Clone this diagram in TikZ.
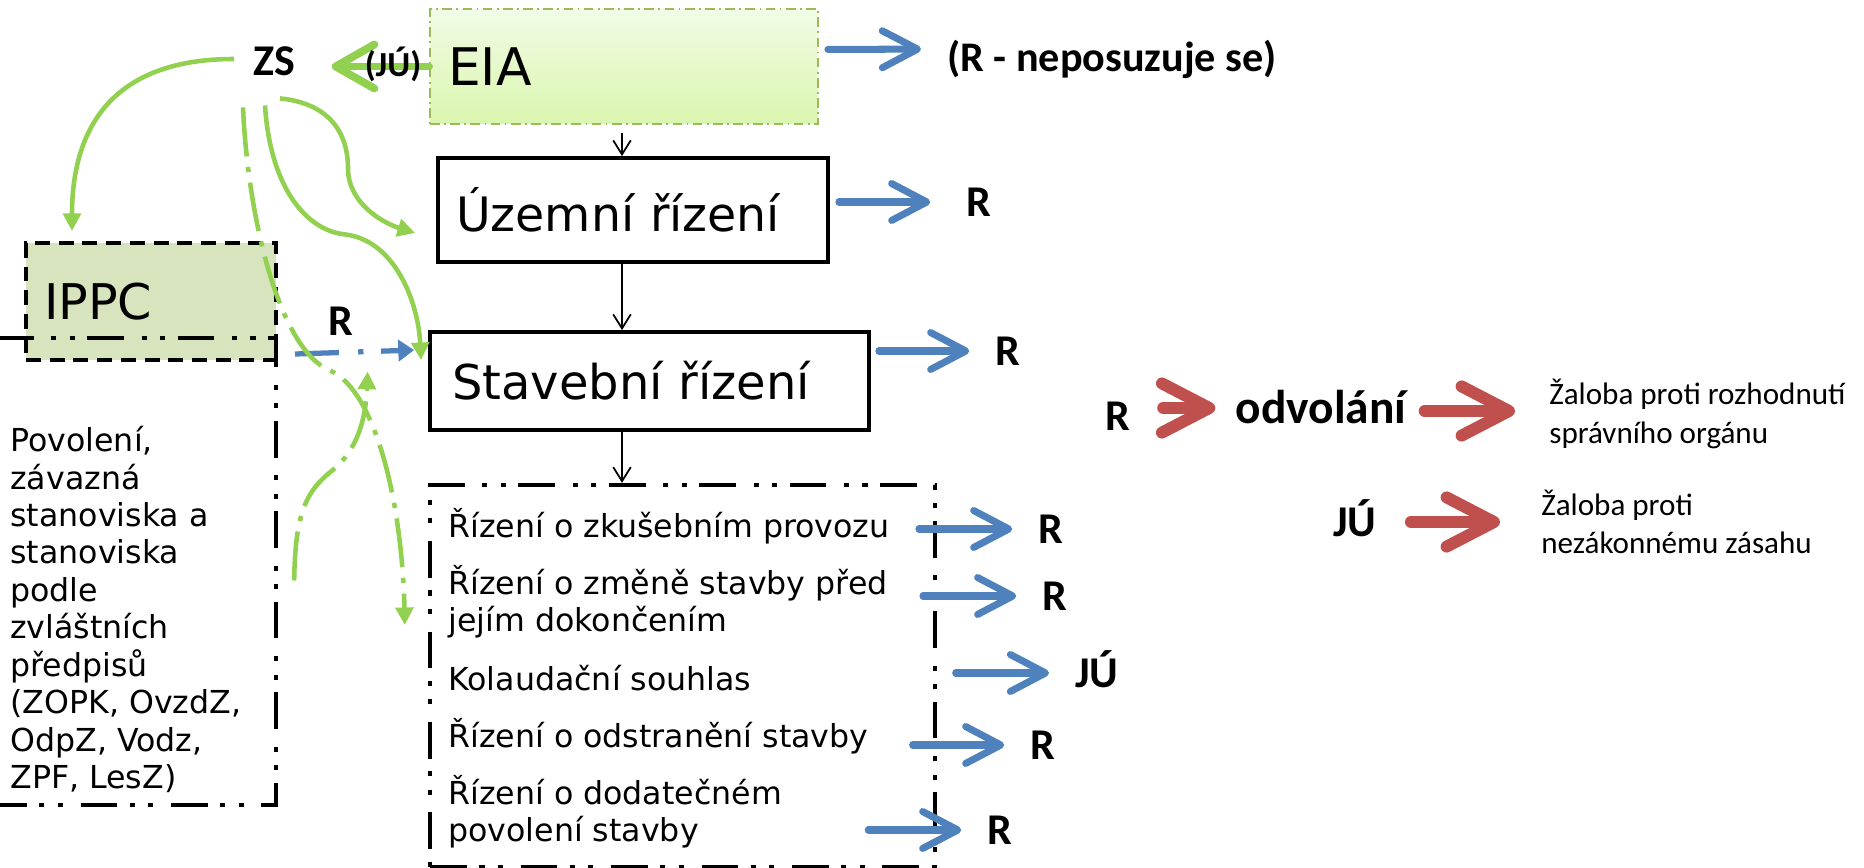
\documentclass[tikz,border=0pt]{standalone}
\usepackage{fontspec}
\setmainfont{DejaVu Sans}
\newfontfamily\calib{Carlito}
\usetikzlibrary{arrows.meta,positioning,calc}
\definecolor{arrowblue}{HTML}{4F81BD}
\definecolor{arrowred}{HTML}{C0504D}
\definecolor{arrowgreen}{HTML}{92D050}
\definecolor{eiaedge}{HTML}{9BBB59}
\definecolor{eiatop}{HTML}{F2FBE6}
\definecolor{eiabottom}{HTML}{D9F6AE}
\definecolor{ippcfill}{HTML}{D7E4BD}
\newcommand{\fsz}[2]{\fontsize{#1}{#2}\selectfont}

\begin{document}
\begin{tikzpicture}[x=0.02cm,y=-0.02cm,
  box/.style={draw=black,line width=2.2pt,align=left,inner xsep=0.36cm,text=black},
  body/.style={font=\fsz{18}{21.3},inner sep=0pt,align=left},
  lab/.style={font=\calib\bfseries\fsz{25}{30},inner sep=0pt,text height=16pt,text depth=0pt},
  note/.style={font=\calib\fsz{17.7}{22},inner sep=0pt,align=left,anchor=west},
  dashdotdot/.style={draw=black,line width=2.5pt,dash pattern=on 21pt off 7pt on 3pt off 7.5pt on 3pt off 10pt},
  bluearr/.style={draw=arrowblue,line width=4pt,line cap=round,-{Straight Barb[length=20pt,width=21pt,round]},shorten >=0.52cm},
  redarr/.style={draw=arrowred,line width=6.8pt,line cap=round,-{Straight Barb[length=27pt,width=28pt,round]}},
  greenbarb/.style={draw=arrowgreen,line width=4.5pt,line cap=round,-{Straight Barb[length=22pt,width=25pt,round]}},
  greenarr/.style={draw=arrowgreen,line width=2.6pt,-{Triangle[length=10pt,width=10pt]}},
  greendash/.style={greenarr,dash pattern=on 28pt off 6pt on 3pt off 6pt},
  bluedash/.style={draw=arrowblue,line width=3pt,dash pattern=on 25pt off 11pt on 3pt off 10pt,-{Triangle[length=9pt,width=12pt]}},
  thinarr/.style={draw=black,line width=1pt,-{Straight Barb[length=8pt,width=10pt]}}
]
\useasboundingbox (0,0) rectangle (1864,868);

\node[box,draw=eiaedge,line width=1.1pt,dash pattern=on 5.5pt off 2.5pt on 1pt off 2.5pt,top color=eiatop,bottom color=eiabottom,text width=7.04cm,minimum height=2.3cm,font=\fsz{29.5}{34}] (eia) at (624,66.5) {EIA};
\node[box,text width=7.08cm,minimum height=2.08cm,font=\fsz{27}{32}] (uz) at (633,210) {Územní řízení};
\node[box,inner xsep=0.44cm,text width=7.9cm,minimum height=1.96cm,font=\fsz{27.3}{32}] (st) at (649.5,381) {Stavební řízení};
\node[box,fill=ippcfill,line width=2.3pt,dash pattern=on 8.5pt off 5pt,text width=4.28cm,minimum height=2.34cm,font=\fsz{28}{33}] (ippc) at (151,301.5) {IPPC};
\node[dashdotdot,minimum width=5.72cm,minimum height=9.34cm,inner sep=0pt] (ostatni) at (133,571.5) {};
\node[dashdotdot,minimum width=10.1cm,minimum height=7.64cm,inner sep=0pt] (rizeni) at (682.5,676) {};

\node[body,anchor=north west] (povol) at (10,426) {Povolení,\\závazná\\stanoviska a\\stanoviska\\podle\\zvláštních\\předpisů\\(ZOPK, OvzdZ,\\OdpZ, Vodz,\\ZPF, LesZ)};
\node[body,anchor=west] (i1) at (448,526) {Řízení o zkušebním provozu};
\node[body,anchor=west] (i2) at (448,602) {Řízení o změně stavby před\\jejím dokončením};
\node[body,anchor=west] (i3) at (448,678) {Kolaudační souhlas};
\node[body,anchor=west] (i4) at (448,736) {Řízení o odstranění stavby};
\node[body,anchor=west] (i5) at (448,812) {Řízení o dodatečném\\povolení stavby};

\node[lab] (zs) at (274,61) {ZS};
\node[lab,font=\calib\bfseries\fsz{24}{28},text height=15.4pt] (rn) at (1112,58) {(R - neposuzuje se)};
\node[lab] (ru) at (979,202) {R};
\node[lab] (rs) at (1008,351) {R};
\node[lab] (rz) at (341,321) {R};
\node[lab] (r1) at (1051,529) {R};
\node[lab] (r2) at (1055,596) {R};
\node[lab] (r3) at (1097,673) {JÚ};
\node[lab] (r4) at (1043,745) {R};
\node[lab] (r5) at (1000,830) {R};
\node[lab] (rr) at (1118,416) {R};
\node[lab,font=\calib\bfseries\fsz{27}{32},text height=17.3pt] (odv) at (1321,408) {odvolání};
\node[lab] (rj) at (1355,522) {JÚ};
\node[note] (z1) at (1549,414) {Žaloba proti rozhodnutí\\správního orgánu};
\node[note] (z2) at (1541,522) {Žaloba proti\\nezákonnému zásahu};

\coordinate (ax) at (622,0);
\draw[thinarr,shorten <=0.16cm] (eia.south -| ax) -- (uz.north -| ax);
\draw[thinarr] (uz.south -| ax) -- (st.north -| ax);
\draw[thinarr] (st.south -| ax) -- (rizeni.north -| ax);

\draw[greenbarb,shorten >=0.73cm] (eia.west) -- (zs.east |- eia.west);
\node[lab,font=\calib\bfseries\fsz{20}{24},text height=12.8pt] (ju) at (393,65) {(JÚ)};

\draw[bluearr,shorten <=0.18cm] ($(eia.east)+(0,-17)$) -- ($(rn.west)+(0,-9)$);
\draw[bluearr,shorten <=0.18cm,shorten >=0.72cm] ($(uz.east)+(0,-8)$) -- (ru.west);
\draw[bluearr,shorten <=0.16cm] ($(st.east)+(0,-30)$) -- (rs.west);
\draw[bluearr,shorten <=0.58cm] (i1.east |- r1.west) -- (r1.west);
\draw[bluearr,shorten <=0.7cm] (i2.east |- r2.west) -- (r2.west);
\draw[bluearr,shorten <=4.08cm] (i3.east |- r3.west) -- (r3.west);
\draw[bluearr,shorten <=0.88cm] (i4.east |- r4.west) -- (r4.west);
\draw[bluearr,shorten <=1.72cm] (i5.east |- r5.west) -- (r5.west);

\draw[redarr,shorten <=0.65cm,shorten >=0.4cm] (rr.east |- odv.west) -- (odv.west);
\draw[redarr,shorten <=0.36cm,shorten >=0.68cm] ($(odv.east)+(0,3)$) -- ($(odv.east -| z1.west)+(0,3)$);
\draw[redarr,shorten <=0.68cm,shorten >=0.82cm] (rj.east) -- (rj.east -| z2.west);

\draw[bluedash] ($(ippc.south east)+(17,-8)$) -- coordinate[pos=0.61] (rmid) ($(st.north west)+(-14,20)$);

\draw[greenarr] ($(zs.west)+(-19,-2)$) .. controls +(-115,0) and +(0,-110) .. ($(ippc.north)+(-79,-10)$);
\draw[greenarr] ($(zs.south)+(6,23)$) .. controls +(50,5) and +(0,-35) .. ++(68,70) .. controls +(0,35) and +(-32,-10) .. ($(uz.west)+(-21,23)$);
\draw[greenarr] ($(zs.south)+(-9,30)$) .. controls +(5,80) and +(-40,-4) .. ++(80,129) .. controls +(50,6) and +(-3,-58) .. ($(st.north west)+(-7,30)$);
\draw[greendash] ($(zs.south)+(-31,32)$) .. controls +(5,113) and +(-50,-20) .. ++(87,263) .. controls +(45,20) and +(-3,-125) .. ($(rizeni.west)+(-23,-51)$);
\draw[greendash] ($(ostatni.east)+(16,9)$) .. controls +(1,-70) and +(-25,20) .. ++(38,-110) .. controls +(25,-20) and +(-2,48) .. ($(rmid)+(0,20)$);
\end{tikzpicture}
\end{document}
